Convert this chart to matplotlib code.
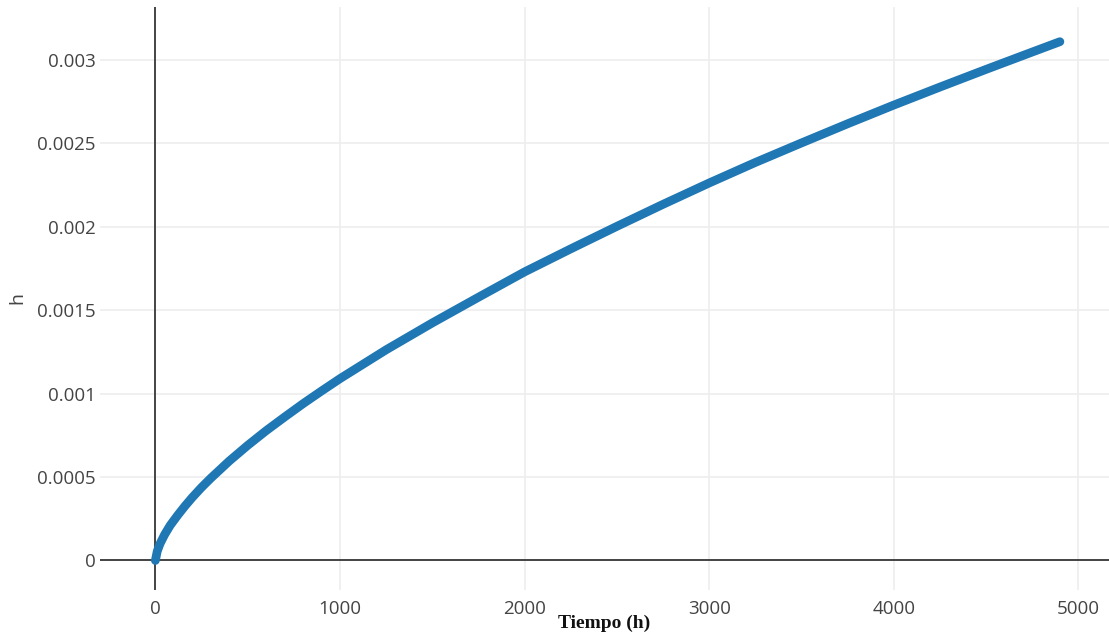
import matplotlib.pyplot as plt
from matplotlib.ticker import FuncFormatter

# valores
tiempo = [0, 10, 25, 50, 80, 120, 160, 200, 250, 300, 400, 500, 600, 700,
          800, 900, 1000, 1250, 1500, 1750, 2000, 2250, 2500, 2750, 3000,
          3250, 3500, 3750, 4000, 4250, 4500, 4750, 4900]
h = [0, 0.000055, 0.0001, 0.000155, 0.00021, 0.00027, 0.000326, 0.000378,
     0.000438, 0.000493, 0.000596, 0.00069, 0.000778, 0.00086, 0.00094,
     0.001016, 0.00109, 0.001263, 0.001424, 0.001578, 0.00173, 0.001868,
     0.002003, 0.002135, 0.002263, 0.002386, 0.002503, 0.002618, 0.00273,
     0.002838, 0.002944, 0.003048, 0.00311]

x_ticks = [0, 1000, 2000, 3000, 4000, 5000]
y_ticks = [0, 0.0005, 0.001, 0.0015, 0.002, 0.0025, 0.003]

plt.rcParams['font.family'] = ['Open Sans', 'DejaVu Sans']

fig = plt.figure(figsize=(11.09, 6.36), dpi=100)
ax = fig.add_axes([100 / 1109, 1 - 590 / 636, 1 - 100 / 1109, (590 - 7) / 636])

ax.plot(tiempo, h, color='#1f77b4', lw=6.3, solid_capstyle='round',
        solid_joinstyle='round', zorder=3)

ax.set_xlim(-300, 5166)
ax.set_ylim(-0.000177, 0.003318)

ax.set_xticks(x_ticks)
ax.set_yticks(y_ticks)
ax.yaxis.set_major_formatter(FuncFormatter(lambda v, p: f"{v:g}"))

ax.grid(True, color='#eeeeee', lw=1.2, zorder=0)
ax.axhline(0, color='#444444', lw=1.4, zorder=2)
ax.axvline(0, color='#444444', lw=1.4, zorder=2)

for s in ax.spines.values():
    s.set_visible(False)

ax.tick_params(axis='both', length=0, labelsize=13.5, labelcolor='#444444')
ax.tick_params(axis='y', pad=3)
ax.tick_params(axis='x', pad=7)

ax.set_xlabel('Tiempo (h)', family=['Liberation Serif', 'DejaVu Serif'],
              fontweight='bold', fontsize=14, color='#111111', labelpad=-2)
ax.set_ylabel('h', fontsize=14, color='#444444', labelpad=8)

plt.savefig('out.png', dpi=100)
